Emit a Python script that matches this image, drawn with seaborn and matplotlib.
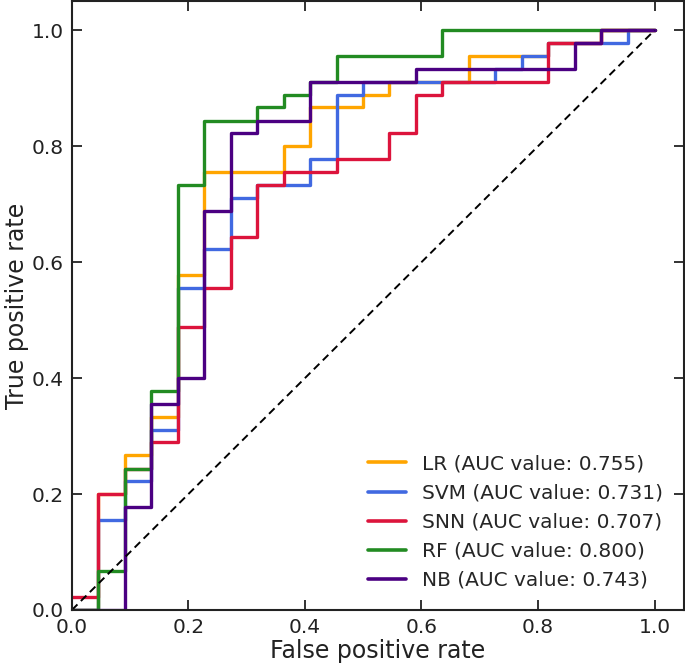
import pandas as pd
import numpy as np
import seaborn as sns
import matplotlib.pyplot as plt

# ROC curve corner points (fpr, tpr) for each model
lr_fpr = [0, 0.045, 0.091, 0.136, 0.182, 0.227, 0.364, 0.409, 0.5, 0.545, 0.682, 0.818, 0.909, 1.0]
lr_tpr = [0, 0.2, 0.267, 0.333, 0.578, 0.756, 0.8, 0.867, 0.889, 0.911, 0.956, 0.978, 1.0, 1.0]

svm_fpr = [0, 0.045, 0.091, 0.136, 0.182, 0.227, 0.273, 0.318, 0.409, 0.455, 0.5, 0.727, 0.773, 0.818, 0.955, 1.0]
svm_tpr = [0, 0.156, 0.222, 0.311, 0.556, 0.622, 0.711, 0.733, 0.778, 0.889, 0.911, 0.933, 0.956, 0.978, 1.0, 1.0]

snn_fpr = [0, 0.045, 0.091, 0.136, 0.182, 0.227, 0.273, 0.318, 0.364, 0.455, 0.545, 0.591, 0.636, 0.818, 0.909, 1.0]
snn_tpr = [0.022, 0.2, 0.244, 0.289, 0.489, 0.556, 0.644, 0.733, 0.756, 0.778, 0.822, 0.889, 0.911, 0.978, 1.0, 1.0]

rf_fpr = [0, 0.045, 0.091, 0.136, 0.182, 0.227, 0.318, 0.364, 0.409, 0.455, 0.636, 1.0]
rf_tpr = [0, 0.067, 0.244, 0.378, 0.733, 0.844, 0.867, 0.889, 0.911, 0.956, 1.0, 1.0]

nb_fpr = [0, 0.091, 0.136, 0.182, 0.227, 0.273, 0.318, 0.409, 0.591, 0.864, 0.909, 1.0]
nb_tpr = [0, 0.178, 0.356, 0.4, 0.689, 0.822, 0.844, 0.911, 0.933, 0.978, 1.0, 1.0]

modelos = ['LR', 'SVM', 'SNN', 'RF', 'NB']
auc = [0.755, 0.731, 0.707, 0.800, 0.743]
cores = ['orange', 'royalblue', 'crimson', 'forestgreen', 'indigo']
curvas = [(lr_fpr, lr_tpr), (svm_fpr, svm_tpr), (snn_fpr, snn_tpr), (rf_fpr, rf_tpr), (nb_fpr, nb_tpr)]

# montar tabela longa
linhas = []
for nome, a, (fx, ty) in zip(modelos, auc, curvas):
    rotulo = f'{nome} (AUC value: {a:.3f})'
    for x, y in zip(fx, ty):
        linhas.append({'fpr': x, 'tpr': y, 'modelo': rotulo})
df = pd.DataFrame(linhas)
rotulos = list(df['modelo'].unique())

sns.set_theme(style="ticks")
plt.rcParams['font.family'] = ['DejaVu Sans']

fig = plt.figure(figsize=(6.85, 6.71), dpi=100)
ax = fig.add_axes([0.105, 0.091, 0.893, 0.907])

sns.lineplot(data=df, x='fpr', y='tpr', hue='modelo', hue_order=rotulos,
             palette=dict(zip(rotulos, cores)), estimator=None, sort=False,
             drawstyle='steps-post', linewidth=2.4, ax=ax)

# linha de referência (classificador aleatório)
ax.plot([0, 1], [0, 1], color='black', linestyle='--', linewidth=1.4, dashes=(4, 2.5))

ax.set_xlim(0, 1.05)
ax.set_ylim(0, 1.05)
ax.set_xticks(np.arange(0, 1.01, 0.2))
ax.set_yticks(np.arange(0, 1.01, 0.2))
ax.tick_params(direction='in', length=7.5, width=1.3, labelsize=14.5, colors='#222222',
               top=True, right=True, pad=6)
for s in ax.spines.values():
    s.set_linewidth(1.5)
    s.set_color('#222222')

ax.set_xlabel('False positive rate', fontsize=17, color='#222222', labelpad=1)
ax.set_ylabel('True positive rate', fontsize=17, color='#222222', labelpad=2)

leg = ax.legend(loc='lower right', frameon=False, fontsize=14.5, handlelength=1.9,
                labelspacing=0.5, borderaxespad=0.6)
for l in leg.get_lines():
    l.set_linewidth(2.6)

plt.savefig('out.png', dpi=100)
